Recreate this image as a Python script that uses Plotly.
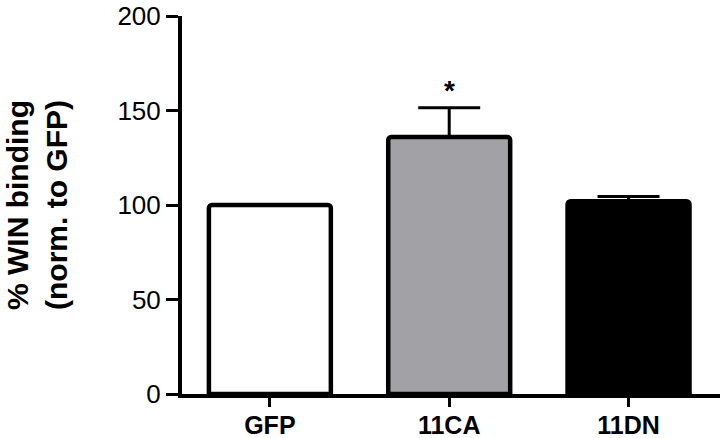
import plotly.graph_objects as go

# values
groups = ["GFP", "11CA", "11DN"]
mean_binding = [100, 136, 102]
sem_up = [0, 15.5, 2.5]
bar_colors = ["#ffffff", "#a2a2a6", "#000000"]
y_ticks = [0, 50, 100, 150, 200]

FONT = "Liberation Sans, Arial, sans-serif"

fig = go.Figure(go.Bar(
    x=groups,
    y=mean_binding,
    width=0.68,
    marker=dict(color=bar_colors, line=dict(color="black", width=4.5), cornerradius=3),
    error_y=dict(type="data", symmetric=False, array=sem_up, arrayminus=[0, 0, 0],
                 color="black", thickness=3, width=31),
))

# significance mark over 11CA
fig.add_annotation(x="11CA", y=mean_binding[1] + sem_up[1], text="<b>*</b>",
                   showarrow=False, yanchor="bottom", yshift=0,
                   font=dict(size=28, color="black", family=FONT))

# two-line y title, placed by hand
fig.add_annotation(xref="paper", yref="paper", x=0, y=0.5, xshift=-145,
                   text="<b>% WIN binding<br>(norm. to GFP)</b>", textangle=-90,
                   showarrow=False, xanchor="center", yanchor="middle",
                   font=dict(size=30, color="black", family=FONT))

fig.update_layout(
    width=726, height=438,
    margin=dict(l=182, r=6, t=16, b=44),
    plot_bgcolor="white", paper_bgcolor="white",
    showlegend=False,
    font=dict(family=FONT, color="black"),
)
fig.update_xaxes(
    range=[-0.49, 2.51], showline=True, linecolor="black", linewidth=4,
    ticks="outside", ticklen=9, tickwidth=3, tickcolor="black",
    tickfont=dict(size=25, family=FONT), showgrid=False, zeroline=False,
    tickprefix="<b>", ticksuffix="</b>", automargin=False, ticklabelstandoff=-3,
)
fig.update_yaxes(
    range=[0, 200], tickvals=y_ticks, showline=True, linecolor="black", linewidth=4,
    ticks="outside", ticklen=12, tickwidth=3, tickcolor="black",
    tickfont=dict(size=26, family=FONT), showgrid=False, zeroline=False,
    tickprefix="<b>", ticksuffix="</b>", automargin=False,
)

# drop the page's default body margin so the figure sits at the corner
fig.write_html("out.html", config={"displayModeBar": False},
               post_script="document.body.style.margin = '0';")
